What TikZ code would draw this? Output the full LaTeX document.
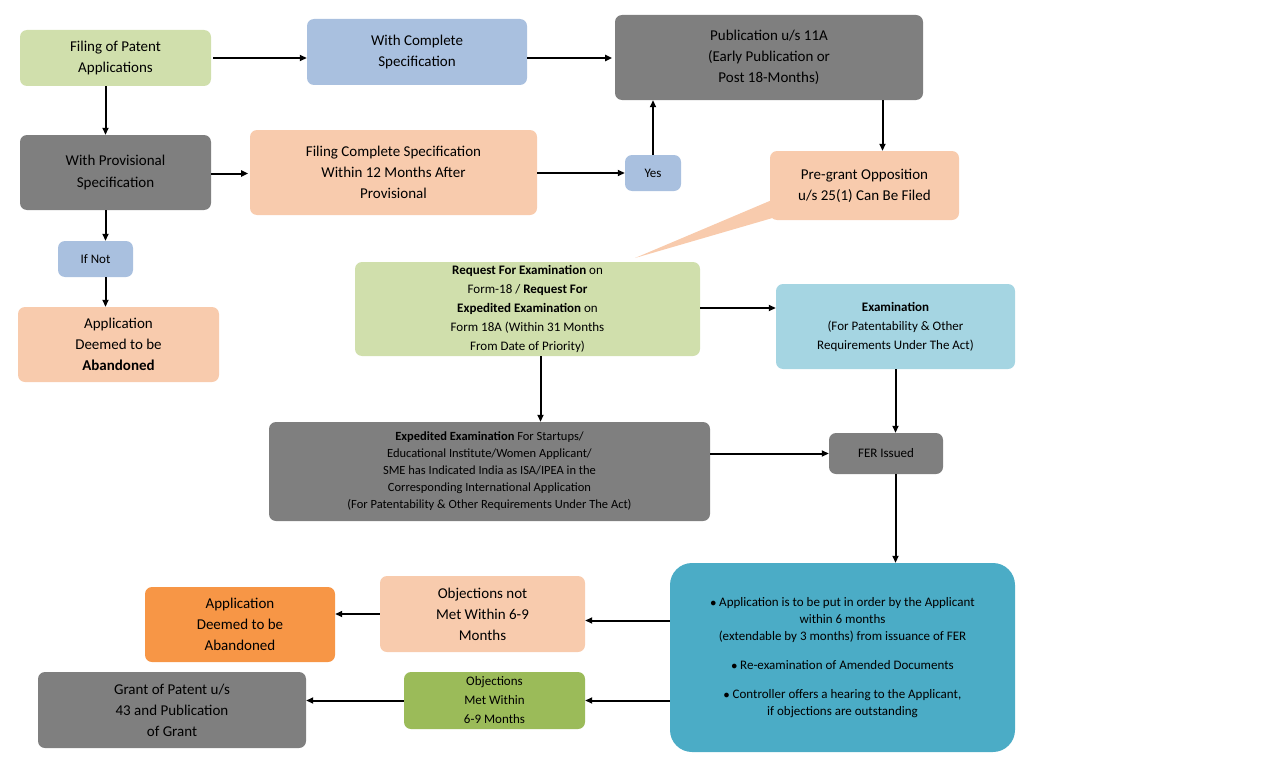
\documentclass[tikz,border=0pt]{standalone}
\usepackage{fontspec}
\setmainfont{Carlito}
\usetikzlibrary{arrows.meta}
\definecolor{lgreen}{HTML}{D0DFAC}
\definecolor{lblue}{HTML}{A9C0DF}
\definecolor{gr}{HTML}{7F7F7F}
\definecolor{peach}{HTML}{F8CBAD}
\definecolor{cyanl}{HTML}{A5D5E2}
\definecolor{teal}{HTML}{4BACC6}
\definecolor{orng}{HTML}{F79646}
\definecolor{olive}{HTML}{9BBB59}
\tikzset{
 bx/.style={rounded corners=7pt,inner sep=0pt,align=center,font=\fontsize{15}{21}\selectfont},
 sm/.style={font=\fontsize{13}{19}\selectfont},
 arr/.style={-{Triangle[length=7pt,width=6pt]},line width=2pt}
}
\newcommand{\bxn}[7]{\node[bx,fill=#1,minimum width=#4pt-#2pt,minimum height=#5pt-#3pt,#6] (#7) at ({(#2+#4)/2},{(#3+#5)/2})}
\begin{document}
\begin{tikzpicture}[x=1pt,y=-1pt]
\useasboundingbox (0,0) rectangle (1280,768);
\bxn{lgreen}{20}{30}{211}{86}{}{A} {Filing of Patent\\Applications};
\bxn{lblue}{307}{19}{527}{85}{}{B} {With Complete\\Specification};
\bxn{gr}{615}{15}{923}{100}{}{C} {Publication u/s 11A\\(Early Publication or\\Post 18-Months)};
\bxn{gr}{20}{135}{211}{210}{}{D} {With Provisional\\Specification};
\bxn{peach}{250}{130}{537}{215}{}{E} {Filing Complete Specification\\Within 12 Months After\\Provisional};
\bxn{lblue}{625}{155}{681}{191}{sm}{Y} {Yes};
\fill[peach] (772,200) -- (635,258) -- (800,210) -- cycle;
\bxn{peach}{770}{151}{959}{220}{}{F} {Pre-grant Opposition\\u/s 25(1) Can Be Filed};
\bxn{lblue}{58}{241}{133}{277}{sm}{IN} {If Not};
\bxn{peach}{18}{307}{219}{382}{}{G} {Application\\Deemed to be\\\textbf{Abandoned}};
\bxn{lgreen}{355}{262}{700}{356}{sm}{H} {\textbf{Request For Examination} on\\Form-18 / \textbf{Request For}\\\textbf{Expedited Examination} on\\Form 18A (Within 31 Months\\From Date of Priority)};
\bxn{cyanl}{776}{284}{1015}{369}{sm}{I} {\textbf{Examination}\\(For Patentability \& Other\\Requirements Under The Act)};
\bxn{gr}{269}{422}{710}{521}{font=\fontsize{12.5}{17}\selectfont}{J} {\textbf{Expedited Examination} For Startups/\\Educational Institute/Women Applicant/\\SME has Indicated India as ISA/IPEA in the\\Corresponding International Application\\(For Patentability \& Other Requirements Under The Act)};
\bxn{gr}{829}{433}{943}{474}{sm}{K} {FER Issued};
\bxn{teal}{670}{563}{1015}{752}{rounded corners=22pt,font=\fontsize{13}{17}\selectfont}{L} {$\bullet$ Application is to be put in order by the Applicant\\within 6 months\\(extendable by 3 months) from issuance of FER\\[12pt]$\bullet$ Re-examination of Amended Documents\\[12pt]$\bullet$ Controller offers a hearing to the Applicant,\\if objections are outstanding};
\bxn{peach}{380}{576}{585}{652}{}{M} {Objections not\\Met Within 6-9\\Months};
\bxn{orng}{145}{587}{335}{662}{}{N} {Application\\Deemed to be\\Abandoned};
\bxn{olive}{404}{672}{585}{729}{sm}{O} {Objections\\Met Within\\6-9 Months};
\bxn{gr}{38}{672}{306}{748}{}{P} {Grant of Patent u/s\\43 and Publication\\of Grant};
\draw[arr] (A.east) ++(2,0) -- (B.west |- A.east);
\draw[arr] (B.east) ++(0,6) -- ++(85,0);
\draw[arr] (A.south) ++(-10,0) coordinate (a1) -- (a1 |- D.north);
\draw[arr] (D.east |- E.west) ++(0,1) -- ++(37,0);
\draw[arr] (E.east |- Y.west) -- (Y.west);
\draw[arr] (Y.north) -- (Y.north |- C.south);
\draw[arr] (C.south -| F.north) ++(18,0) coordinate (c1) -- (c1 |- F.north);
\draw[arr] (D.south -| a1) -- (a1 |- IN.north);
\draw[arr] (IN.south -| a1) -- (a1 |- G.north);
\draw[arr] (H.east) ++(0,-1) coordinate (h1) -- (I.west |- h1);
\draw[arr] (H.south) ++(13,0) coordinate (h2) -- (h2 |- J.north);
\draw[arr] (I.south) -- (I.south |- K.north);
\draw[arr] (J.east |- K.west) -- (K.west);
\draw[arr] (K.south -| I.south) -- (I.south |- L.north);
\draw[arr] (L.west) ++(0,-37) coordinate (l1) -- (M.east |- l1);
\draw[arr] (M.west) -- (N.east |- M.west);
\draw[arr] (L.west |- O.east) -- (O.east);
\draw[arr] (O.west) -- (P.east |- O.west);
\end{tikzpicture}
\end{document}
